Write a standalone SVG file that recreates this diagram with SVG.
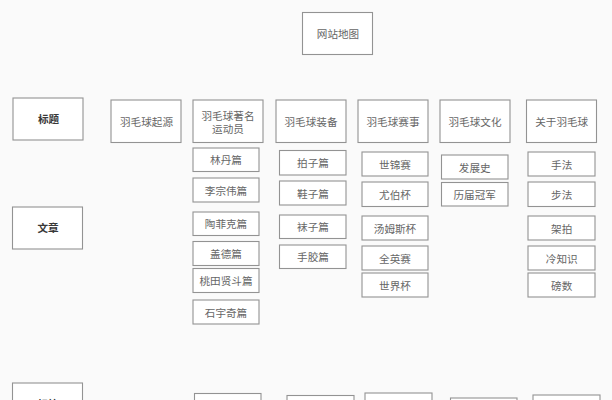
<svg xmlns="http://www.w3.org/2000/svg" width="612" height="400" viewBox="0 0 612 400">
<style>
rect.b{fill:#fff;stroke:#939393;stroke-width:1.1}
text{font-family:"Noto Sans CJK SC","Liberation Sans",sans-serif;font-size:10.600px;fill:#666;text-anchor:middle}
text.h{font-weight:700;fill:#383838}
</style>
<rect width="612" height="400" fill="#fafafa"/>
<g id="connectors"/>
<g id="root"><rect class="b" x="302.500" y="12.500" width="70" height="42"/><text x="338" y="37.500">网站地图</text></g>
<g id="h1"><rect class="b" x="13" y="98" width="70" height="42"/><text class="h" x="48.500" y="123">标题</text></g>
<g id="h2"><rect class="b" x="12.500" y="207" width="70" height="42"/><text class="h" x="48" y="232">文章</text></g>
<g id="h3"><rect class="b" x="12.500" y="383" width="70" height="42"/><text class="h" x="48" y="408">标签</text></g>
<g id="t1"><rect class="b" x="111" y="100" width="70" height="42.500"/><text x="146.500" y="126">羽毛球起源</text></g>
<g id="t2"><rect class="b" x="193" y="100" width="70" height="42.500"/><text x="228" y="120">羽毛球著名</text><text x="228" y="132.500">运动员</text></g>
<g id="t3"><rect class="b" x="276" y="100" width="70" height="42.500"/><text x="311" y="126">羽毛球装备</text></g>
<g id="t4"><rect class="b" x="358" y="100" width="70" height="42.500"/><text x="393" y="126">羽毛球赛事</text></g>
<g id="t5"><rect class="b" x="440" y="100" width="70" height="42.500"/><text x="475" y="126">羽毛球文化</text></g>
<g id="t6"><rect class="b" x="526.500" y="100" width="70" height="42.500"/><text x="561.700" y="126">关于羽毛球</text></g>
<g id="a1"><rect class="b" x="193" y="148" width="66" height="23.500"/><text x="226" y="164">林丹篇</text></g>
<g id="a2"><rect class="b" x="193" y="178" width="66" height="24"/><text x="226" y="194.500">李宗伟篇</text></g>
<g id="a3"><rect class="b" x="193" y="212" width="66" height="23.500"/><text x="226" y="228">陶菲克篇</text></g>
<g id="a4"><rect class="b" x="193" y="241.500" width="66" height="24"/><text x="226" y="258">盖德篇</text></g>
<g id="a5"><rect class="b" x="193" y="268.500" width="66" height="24"/><text x="226" y="285">桃田贤斗篇</text></g>
<g id="a6"><rect class="b" x="193" y="300" width="66" height="24"/><text x="226" y="316.500">石宇奇篇</text></g>
<g id="b1"><rect class="b" x="279.500" y="150.500" width="66.500" height="24.500"/><text x="313" y="167">拍子篇</text></g>
<g id="b2"><rect class="b" x="279.500" y="181" width="66.500" height="24"/><text x="313" y="197.500">鞋子篇</text></g>
<g id="b3"><rect class="b" x="279.500" y="215" width="66.500" height="23.500"/><text x="313" y="231">袜子篇</text></g>
<g id="b4"><rect class="b" x="279.500" y="245" width="66.500" height="23.500"/><text x="313" y="261">手胶篇</text></g>
<g id="c1"><rect class="b" x="362" y="152" width="66" height="24"/><text x="395" y="168.500">世锦赛</text></g>
<g id="c2"><rect class="b" x="362" y="182" width="66" height="24.500"/><text x="395" y="199">尤伯杯</text></g>
<g id="c3"><rect class="b" x="362" y="216" width="66" height="24"/><text x="395" y="232.500">汤姆斯杯</text></g>
<g id="c4"><rect class="b" x="362" y="246" width="66" height="24"/><text x="395" y="262.500">全英赛</text></g>
<g id="c5"><rect class="b" x="362" y="273" width="66" height="24"/><text x="395" y="289.500">世界杯</text></g>
<g id="d1"><rect class="b" x="441.500" y="155" width="66.500" height="24"/><text x="474.700" y="171.500">发展史</text></g>
<g id="d2"><rect class="b" x="441.500" y="182.500" width="66.500" height="23.500"/><text x="474.700" y="199">历届冠军</text></g>
<g id="e1"><rect class="b" x="528" y="152" width="67" height="24"/><text x="561.700" y="168.500">手法</text></g>
<g id="e2"><rect class="b" x="528" y="182" width="67" height="24.500"/><text x="561.700" y="199">步法</text></g>
<g id="e3"><rect class="b" x="528" y="216" width="67" height="24"/><text x="561.700" y="232.500">架拍</text></g>
<g id="e4"><rect class="b" x="528" y="246" width="67" height="24"/><text x="561.700" y="262.500">冷知识</text></g>
<g id="e5"><rect class="b" x="528" y="273" width="67" height="24"/><text x="561.700" y="289.500">磅数</text></g>
<g id="f1"><rect class="b" x="194.500" y="393.500" width="66.500" height="24"/></g>
<g id="f2"><rect class="b" x="287" y="395.500" width="67" height="24"/></g>
<g id="f3"><rect class="b" x="365" y="393" width="67" height="24"/></g>
<g id="f4"><rect class="b" x="450.500" y="398" width="66.500" height="24"/></g>
<g id="f5"><rect class="b" x="533" y="395" width="67" height="24"/></g>
</svg>
